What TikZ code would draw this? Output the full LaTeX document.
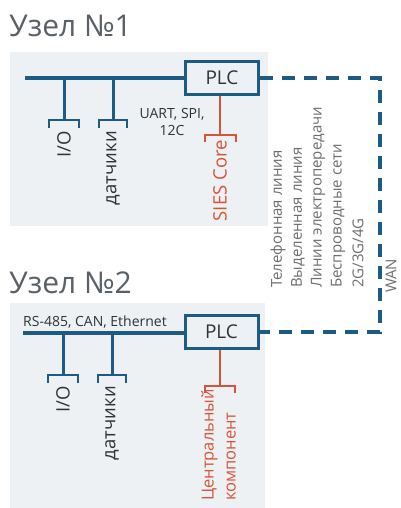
\documentclass[tikz,border=0pt]{standalone}
\usepackage{fontspec}
\setmainfont{Open Sans}
\definecolor{cblue}{HTML}{1D5B87}
\definecolor{cbg}{HTML}{EDF1F4}
\definecolor{cred}{HTML}{D6543A}
\definecolor{ctitle}{HTML}{596066}
\definecolor{cgray}{HTML}{6E6E6E}
\definecolor{ctext}{HTML}{2E3338}
\begin{document}
\begin{tikzpicture}[x=1pt,y=-1pt,
  bus/.style={line width=4pt, draw=cblue},
  drop/.style={line width=3pt, draw=cblue},
  brk/.style={line width=2.5pt, draw=cblue},
  rdrop/.style={line width=2pt, draw=cred},
  rbrk/.style={line width=2pt, draw=cred},
  plcbox/.style={draw=cblue, line width=3pt, fill=cbg, minimum width=73pt, minimum height=33pt, inner sep=0pt, font=\fontsize{19}{19}\selectfont, text=ctext},
  title/.style={anchor=base west, inner sep=0pt, font=\fontsize{30}{30}\selectfont, text=ctitle},
  lbl/.style={rotate=90, anchor=east, inner sep=0pt, font=\fontsize{18.5}{18.5}\selectfont, text=ctext},
  rlbl/.style={rotate=90, anchor=east, inner sep=0pt, font=\fontsize{18.5}{22}\selectfont, text=cred, align=left},
  small/.style={inner sep=0pt, font=\fontsize{14}{17}\selectfont, text=ctext, align=center},
  wantxt/.style={rotate=90, anchor=west, inner sep=0pt, font=\fontsize{15}{15}\selectfont, text=cgray},
  wan/.style={line width=4pt, draw=cblue, dash pattern=on 13pt off 9pt}
]
\useasboundingbox (0,0) rectangle (401,508);
\fill[white] (0,0) rectangle (401,508);
\fill[cbg] (10,52) rectangle (268,226);
\fill[cbg] (10,303) rectangle (265,508);

% titles
\node[title] (t1) at (9,37) {Узел №1};
\node[title] (t2) at (9,293) {Узел №2};

% ---------- node 1 ----------
\node[plcbox] (plc1) at (222,78) {PLC};
\coordinate (b1) at (25,78);
\draw[bus] (b1) -- (plc1.west);
\coordinate (io1) at (64,78);
\coordinate (s1) at (113,78);
\draw[drop] (io1) -- (64,120);
\draw[brk] (49,128) -- (49,120) -- (79,120) -- (79,128);
\draw[drop] (s1) -- (113,120);
\draw[brk] (99,128) -- (99,120) -- (127,120) -- (127,128);
\node[lbl] (io1t) at (64,131) {I/O};
\node[lbl] (s1t) at (113,131) {датчики};
\node[small] (uart) at (172,122) {UART, SPI,\\12C};
\draw[rdrop] (plc1.south -| 220,0) -- (220,135);
\draw[rbrk] (205,142) -- (205,135) -- (236,135) -- (236,142);
\node[rlbl] (core1) at (220,140) {SIES Core};

% ---------- node 2 ----------
\node[plcbox] (plc2) at (221.5,332) {PLC};
\coordinate (b2) at (23,333);
\draw[bus] (b2) -- (plc2.west |- b2);
\node[small, anchor=base west] (rs) at (23,326) {RS-485, CAN, Ethernet};
\coordinate (io2) at (63,333);
\coordinate (s2) at (112,333);
\draw[drop] (io2) -- (63,375);
\draw[brk] (48,383) -- (48,375) -- (78,375) -- (78,383);
\draw[drop] (s2) -- (112,375);
\draw[brk] (98,383) -- (98,375) -- (126,375) -- (126,383);
\node[lbl] (io2t) at (63,386) {I/O};
\node[lbl] (s2t) at (112,386) {датчики};
\draw[rdrop] (plc2.south -| 220,0) -- (220,386);
\draw[rbrk] (205,393) -- (205,386) -- (235,386) -- (235,393);
\node[rlbl, anchor=north east, font=\fontsize{16.5}{22}\selectfont] (core2) at (201,389) {Центральный\\компонент};

% ---------- WAN ----------
\coordinate (w1) at (380,78);
\coordinate (w2) at (380,332);
\draw[wan] (plc1.east) -- (w1) -- (w2) -- (plc2.east);
\node[wantxt] (l1) at (278,288) {Телефонная линия};
\node[wantxt] (l2) at (298,288) {Выделенная линия};
\node[wantxt] (l3) at (318,288) {Линии электропередачи};
\node[wantxt] (l4) at (338,288) {Беспроводные сети};
\node[wantxt] (l5) at (358,288) {2G/3G/4G};
\node[wantxt] (l6) at (391,293) {WAN};
\end{tikzpicture}
\end{document}
